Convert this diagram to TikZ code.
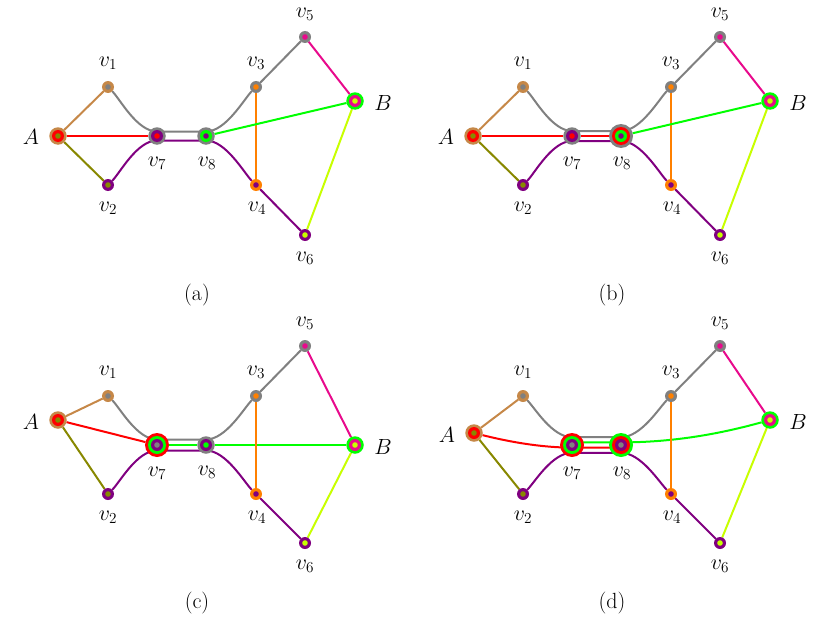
\documentclass[tikz,border=0pt]{standalone}
\usetikzlibrary{calc}
\pgfdeclarelayer{bg}
\pgfsetlayers{bg,main}
\definecolor{cbrown}{RGB}{198,136,72}
\definecolor{colive}{RGB}{136,136,0}
\definecolor{cred}{RGB}{255,0,0}
\definecolor{cgray}{RGB}{128,128,128}
\definecolor{cpurple}{RGB}{128,0,128}
\definecolor{cgreen}{RGB}{0,255,0}
\definecolor{corange}{RGB}{255,128,0}
\definecolor{cmag}{RGB}{232,10,140}
\definecolor{clime}{RGB}{200,255,0}
\tikzset{
 vtx/.style={circle, inner sep=0pt, outer sep=0pt, draw=none},
 ringA/.style 2 args={vtx, minimum size=12pt, fill=#1,
   path picture={\fill[#2] (path picture bounding box.center) circle (2.8pt);}},
 ringB/.style n args={3}{vtx, minimum size=17.5pt, fill=#1,
   path picture={\fill[#2] (path picture bounding box.center) circle (6pt);
                 \fill[#3] (path picture bounding box.center) circle (2.8pt);}},
 ringC/.style n args={4}{vtx, minimum size=24pt, fill=#1,
   path picture={\fill[#2] (path picture bounding box.center) circle (9pt);
                 \fill[#3] (path picture bounding box.center) circle (6pt);
                 \fill[#4] (path picture bounding box.center) circle (2.8pt);}},
 lbl/.style={inner sep=0pt, font=\fontsize{17.28}{20}\selectfont, scale=1.27},
 lnk/.style={line width=2pt},
}
\begin{document}
\begin{tikzpicture}[x=1pt,y=-1pt]
\useasboundingbox (0,0) rectangle (830,618);

% ================= panel (a)
\begin{scope}
\node[ringB={cbrown}{cred}{colive}] (a-A) at (58,136) {};
\node[ringA={cbrown}{cgray}] (a-v1) at (108,87) {};
\node[ringA={cpurple}{colive}] (a-v2) at (108,185) {};
\node[ringB={cgray}{cpurple}{cred}] (a-v7) at (157,136) {};
\node[ringB={cgray}{cgreen}{cpurple}] (a-v8) at (206,136) {};
\node[ringA={cgray}{corange}] (a-v3) at (256,87) {};
\node[ringA={corange}{cpurple}] (a-v4) at (256,185) {};
\node[ringA={cgray}{cmag}] (a-v5) at (305,37) {};
\node[ringA={cpurple}{clime}] (a-v6) at (305,235) {};
\node[ringB={cgreen}{cmag}{clime}] (a-B) at (355,101) {};
\node[lbl] (a-lA) at ($(a-A)+(-27,1)$) {$A$};
\node[lbl] (a-l1) at ($(a-v1)+(0,-24)$) {$v_1$};
\node[lbl] (a-l2) at ($(a-v2)+(0,23)$) {$v_2$};
\node[lbl] (a-l7) at ($(a-v7)+(0,27)$) {$v_7$};
\node[lbl] (a-l8) at ($(a-v8)+(1,27)$) {$v_8$};
\node[lbl] (a-l3) at ($(a-v3)+(0,-24)$) {$v_3$};
\node[lbl] (a-l4) at ($(a-v4)+(1,23)$) {$v_4$};
\node[lbl] (a-l5) at ($(a-v5)+(0,-23)$) {$v_5$};
\node[lbl] (a-l6) at ($(a-v6)+(0,23)$) {$v_6$};
\node[lbl] (a-lB) at ($(a-B)+(28,2)$) {$B$};
\node[lbl] (a-cap) at (197,295) {(a)};
\begin{pgfonlayer}{bg}
\draw[lnk,cbrown] (a-A) -- (a-v1);
\draw[lnk,colive] (a-A) -- (a-v2);
\draw[lnk,cred] (a-A) -- (a-v7);
\draw[lnk,cgray] (a-v1) .. controls +(12,12) and +(-20,0) .. ($(a-v7)+(0,-4.5)$) -- ($(a-v8)+(0,-4.5)$) .. controls +(20,0) and +(-12,12) .. (a-v3) -- (a-v5);
\draw[lnk,cpurple] (a-v2) .. controls +(12,-12) and +(-20,0) .. ($(a-v7)+(0,4.5)$) -- ($(a-v8)+(0,4.5)$) .. controls +(20,0) and +(-12,-12) .. (a-v4) -- (a-v6);
\draw[lnk,corange] (a-v3) -- (a-v4);
\draw[lnk,cmag] (a-v5) -- (a-B);
\draw[lnk,clime] (a-v6) -- (a-B);
\draw[lnk,cgreen] (a-v8) -- (a-B);
\end{pgfonlayer}
\end{scope}

% ================= panel (b)
\begin{scope}[shift={(415,0)}]
\node[ringB={cbrown}{cred}{colive}] (b-A) at (58,136) {};
\node[ringA={cbrown}{cgray}] (b-v1) at (108,87) {};
\node[ringA={cpurple}{colive}] (b-v2) at (108,185) {};
\node[ringB={cgray}{cpurple}{cred}] (b-v7) at (157,136) {};
\node[ringC={cgray}{cred}{cgreen}{cpurple}] (b-v8) at (206,136) {};
\node[ringA={cgray}{corange}] (b-v3) at (256,87) {};
\node[ringA={corange}{cpurple}] (b-v4) at (256,185) {};
\node[ringA={cgray}{cmag}] (b-v5) at (305,37) {};
\node[ringA={cpurple}{clime}] (b-v6) at (305,235) {};
\node[ringB={cgreen}{cmag}{clime}] (b-B) at (355,101) {};
\node[lbl] (b-lA) at ($(b-A)+(-27,1)$) {$A$};
\node[lbl] (b-l1) at ($(b-v1)+(0,-24)$) {$v_1$};
\node[lbl] (b-l2) at ($(b-v2)+(0,23)$) {$v_2$};
\node[lbl] (b-l7) at ($(b-v7)+(0,27)$) {$v_7$};
\node[lbl] (b-l8) at ($(b-v8)+(1,27)$) {$v_8$};
\node[lbl] (b-l3) at ($(b-v3)+(0,-24)$) {$v_3$};
\node[lbl] (b-l4) at ($(b-v4)+(1,23)$) {$v_4$};
\node[lbl] (b-l5) at ($(b-v5)+(0,-23)$) {$v_5$};
\node[lbl] (b-l6) at ($(b-v6)+(0,23)$) {$v_6$};
\node[lbl] (b-lB) at ($(b-B)+(28,2)$) {$B$};
\node[lbl] (b-cap) at (197,295) {(b)};
\begin{pgfonlayer}{bg}
\draw[lnk,cbrown] (b-A) -- (b-v1);
\draw[lnk,colive] (b-A) -- (b-v2);
\draw[lnk,cred] (b-A) -- (b-v7) -- (b-v8);
\draw[lnk,cgray] (b-v1) .. controls +(12,12) and +(-20,0) .. ($(b-v7)+(0,-5)$) -- ($(b-v8)+(0,-5)$) .. controls +(20,0) and +(-12,12) .. (b-v3) -- (b-v5);
\draw[lnk,cpurple] (b-v2) .. controls +(12,-12) and +(-20,0) .. ($(b-v7)+(0,5)$) -- ($(b-v8)+(0,5)$) .. controls +(20,0) and +(-12,-12) .. (b-v4) -- (b-v6);
\draw[lnk,corange] (b-v3) -- (b-v4);
\draw[lnk,cmag] (b-v5) -- (b-B);
\draw[lnk,clime] (b-v6) -- (b-B);
\draw[lnk,cgreen] (b-v8) -- (b-B);
\end{pgfonlayer}
\end{scope}

% ================= panel (c)
\begin{scope}[shift={(0,309)}]
\node[ringB={cbrown}{cred}{colive}] (c-A) at (58,111) {};
\node[ringA={cbrown}{cgray}] (c-v1) at (108,87) {};
\node[ringA={cpurple}{colive}] (c-v2) at (108,185) {};
\node[ringC={cred}{cgreen}{cpurple}{cgray}] (c-v7) at (157,136) {};
\node[ringB={cgray}{cpurple}{cgreen}] (c-v8) at (206,136) {};
\node[ringA={cgray}{corange}] (c-v3) at (256,87) {};
\node[ringA={corange}{cpurple}] (c-v4) at (256,185) {};
\node[ringA={cgray}{cmag}] (c-v5) at (305,37) {};
\node[ringA={cpurple}{clime}] (c-v6) at (305,234) {};
\node[ringB={cgreen}{cmag}{clime}] (c-B) at (355,136) {};
\node[lbl] (c-lA) at ($(c-A)+(-27,2)$) {$A$};
\node[lbl] (c-l1) at ($(c-v1)+(0,-24)$) {$v_1$};
\node[lbl] (c-l2) at ($(c-v2)+(0,23)$) {$v_2$};
\node[lbl] (c-l7) at ($(c-v7)+(0,28)$) {$v_7$};
\node[lbl] (c-l8) at ($(c-v8)+(1,27)$) {$v_8$};
\node[lbl] (c-l3) at ($(c-v3)+(0,-24)$) {$v_3$};
\node[lbl] (c-l4) at ($(c-v4)+(1,23)$) {$v_4$};
\node[lbl] (c-l5) at ($(c-v5)+(0,-23)$) {$v_5$};
\node[lbl] (c-l6) at ($(c-v6)+(0,23)$) {$v_6$};
\node[lbl] (c-lB) at ($(c-B)+(28,2)$) {$B$};
\node[lbl] (c-cap) at (197,294) {(c)};
\begin{pgfonlayer}{bg}
\draw[lnk,cbrown] (c-A) -- (c-v1);
\draw[lnk,colive] (c-A) -- (c-v2);
\draw[lnk,cred] (c-A) -- (c-v7);
\draw[lnk,cgray] (c-v1) .. controls +(12,12) and +(-20,0) .. ($(c-v7)+(0,-5.5)$) -- ($(c-v8)+(0,-5.5)$) .. controls +(20,0) and +(-12,12) .. (c-v3) -- (c-v5);
\draw[lnk,cgreen] (c-v7) -- (c-v8) -- (c-B);
\draw[lnk,cpurple] (c-v2) .. controls +(12,-12) and +(-20,0) .. ($(c-v7)+(0,5.5)$) -- ($(c-v8)+(0,5.5)$) .. controls +(20,0) and +(-12,-12) .. (c-v4) -- (c-v6);
\draw[lnk,corange] (c-v3) -- (c-v4);
\draw[lnk,cmag] (c-v5) -- (c-B);
\draw[lnk,clime] (c-v6) -- (c-B);
\end{pgfonlayer}
\end{scope}

% ================= panel (d)
\begin{scope}[shift={(415,309)}]
\node[ringB={cbrown}{cred}{colive}] (d-A) at (59,124) {};
\node[ringA={cbrown}{cgray}] (d-v1) at (108,87) {};
\node[ringA={cpurple}{colive}] (d-v2) at (108,185) {};
\node[ringC={cred}{cgreen}{cpurple}{cgray}] (d-v7) at (157,136) {};
\node[ringC={cgreen}{cred}{cpurple}{cgray}] (d-v8) at (206,136) {};
\node[ringA={cgray}{corange}] (d-v3) at (256,87) {};
\node[ringA={corange}{cpurple}] (d-v4) at (256,185) {};
\node[ringA={cgray}{cmag}] (d-v5) at (305,37) {};
\node[ringA={cpurple}{clime}] (d-v6) at (305,234) {};
\node[ringB={cgreen}{cmag}{clime}] (d-B) at (355,111) {};
\node[lbl] (d-lA) at ($(d-A)+(-27,2)$) {$A$};
\node[lbl] (d-l1) at ($(d-v1)+(0,-24)$) {$v_1$};
\node[lbl] (d-l2) at ($(d-v2)+(0,23)$) {$v_2$};
\node[lbl] (d-l7) at ($(d-v7)+(0,28)$) {$v_7$};
\node[lbl] (d-l8) at ($(d-v8)+(1,28)$) {$v_8$};
\node[lbl] (d-l3) at ($(d-v3)+(0,-24)$) {$v_3$};
\node[lbl] (d-l4) at ($(d-v4)+(1,23)$) {$v_4$};
\node[lbl] (d-l5) at ($(d-v5)+(0,-23)$) {$v_5$};
\node[lbl] (d-l6) at ($(d-v6)+(0,23)$) {$v_6$};
\node[lbl] (d-lB) at ($(d-B)+(28,2)$) {$B$};
\node[lbl] (d-cap) at (197,294) {(d)};
\begin{pgfonlayer}{bg}
\draw[lnk,cbrown] (d-A) -- (d-v1);
\draw[lnk,colive] (d-A) -- (d-v2);
\draw[lnk,cred] (d-A) .. controls +(28,7) and +(-35,0) .. ($(d-v7)+(0,2.6)$) -- ($(d-v8)+(0,2.6)$);
\draw[lnk,cgreen] ($(d-v7)+(0,-2.6)$) -- ($(d-v8)+(0,-2.6)$) .. controls +(60,0) and +(-40,11) .. (d-B);
\draw[lnk,cgray] (d-v1) .. controls +(12,12) and +(-20,0) .. ($(d-v7)+(0,-7.8)$) -- ($(d-v8)+(0,-7.8)$) .. controls +(20,0) and +(-12,12) .. (d-v3) -- (d-v5);
\draw[lnk,cpurple] (d-v2) .. controls +(12,-12) and +(-20,0) .. ($(d-v7)+(0,7.8)$) -- ($(d-v8)+(0,7.8)$) .. controls +(20,0) and +(-12,-12) .. (d-v4) -- (d-v6);
\draw[lnk,corange] (d-v3) -- (d-v4);
\draw[lnk,cmag] (d-v5) -- (d-B);
\draw[lnk,clime] (d-v6) -- (d-B);
\end{pgfonlayer}
\end{scope}
\end{tikzpicture}
\end{document}
